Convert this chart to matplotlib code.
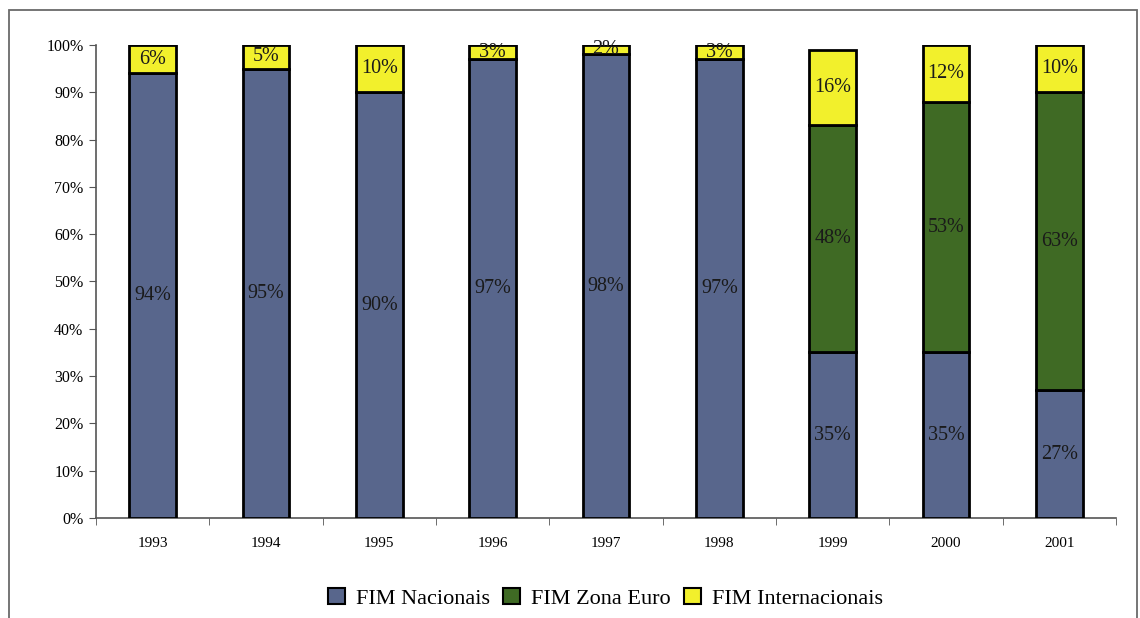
import numpy as np
import matplotlib.pyplot as plt
from matplotlib.patches import Rectangle

anos = ['1993', '1994', '1995', '1996', '1997', '1998', '1999', '2000', '2001']
fim_nacionais = [94, 95, 90, 97, 98, 97, 35, 35, 27]
fim_zona_euro = [0, 0, 0, 0, 0, 0, 48, 53, 63]
fim_internacionais = [6, 5, 10, 3, 2, 3, 16, 12, 10]

series = [
    ('FIM Nacionais', fim_nacionais, '#58668c'),
    ('FIM Zona Euro', fim_zona_euro, '#3f6a24'),
    ('FIM Internacionais', fim_internacionais, '#f2f02c'),
]

plt.rcParams['font.family'] = ['Liberation Serif', 'DejaVu Serif']

fig = plt.figure(figsize=(11.4, 6.18), dpi=100)
ax = fig.add_axes([0.0842, 0.1618, 0.8948, 0.7654])

# moldura exterior do gráfico
fig.patches.append(Rectangle((9 / 1140, -0.05), 1128 / 1140, 1.05 - 10 / 618,
                             transform=fig.transFigure, fill=False,
                             edgecolor='#6a6a6a', linewidth=1.3))

x = np.arange(len(anos))
base = np.zeros(len(anos))
for nome, vals, cor in series:
    vals = np.array(vals, dtype=float)
    ax.bar(x, vals / 100, 0.41, bottom=base / 100, color=cor,
           edgecolor='black', linewidth=2, label=nome, zorder=3)
    for i, v in enumerate(vals):
        if v > 0:
            ax.text(x[i], (base[i] + v / 2) / 100, f'{int(v)}%',
                    ha='center', va='center', fontsize=14.5, color='#1a1a1a',
                    zorder=4, clip_on=False)
    base += vals

ax.set_xlim(-0.5, len(anos) - 0.5)
ax.set_ylim(0, 1)
ax.set_yticks(np.arange(0, 1.01, 0.1))
ax.set_yticklabels([f'{int(round(t * 100))}%' for t in np.arange(0, 1.01, 0.1)])
ax.set_xticks(x)
ax.set_xticklabels(anos)
ax.set_xticks(np.arange(-0.5, len(anos)), minor=True)
ax.tick_params(axis='x', which='major', length=0, pad=14, labelsize=11)
ax.tick_params(axis='x', which='minor', length=5, direction='out', color='#555555')
ax.tick_params(axis='y', length=5, direction='out', color='#555555', labelsize=11.5, pad=4)

for lado in ['top', 'right']:
    ax.spines[lado].set_visible(False)
for lado in ['left', 'bottom']:
    ax.spines[lado].set_color('#555555')
    ax.spines[lado].set_linewidth(1.2)

leg = fig.legend(loc='center', bbox_to_anchor=(0.531, 0.032), ncol=3, frameon=False,
                 fontsize=16, handlelength=0.75, handleheight=0.75,
                 handletextpad=0.5, columnspacing=0.6)
for h in leg.legend_handles:
    h.set_linewidth(1.5)

fig.savefig('out.png', dpi=100, facecolor='white')
